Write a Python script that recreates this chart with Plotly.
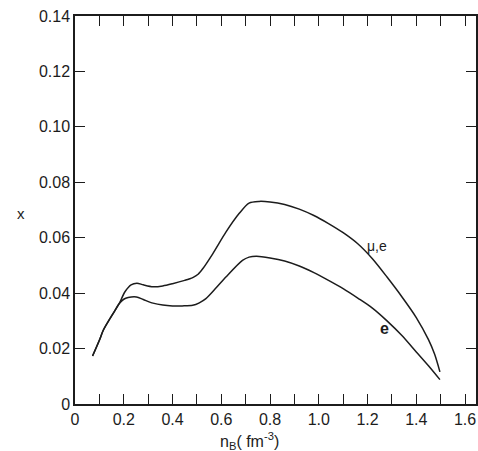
import plotly.graph_objects as go

# Data
x_mue = [0.072, 0.10, 0.116, 0.156, 0.181, 0.205, 0.230, 0.254, 0.28, 0.32, 0.36, 0.40, 0.45, 0.483,
         0.505, 0.524, 0.565, 0.619, 0.673, 0.714, 0.755, 0.80, 0.86, 0.92, 0.98, 1.04, 1.10, 1.16,
         1.22, 1.28, 1.34, 1.40, 1.45, 1.475, 1.497]
y_mue = [0.0173, 0.0230, 0.0266, 0.0326, 0.0362, 0.0405, 0.0430, 0.0436, 0.0430, 0.0423, 0.0426,
         0.0434, 0.0446, 0.0456, 0.0468, 0.0488, 0.0542, 0.0620, 0.0687, 0.0725, 0.0731, 0.0729,
         0.0720, 0.0703, 0.0680, 0.0651, 0.0618, 0.0578, 0.0524, 0.0458, 0.0388, 0.0312, 0.0232,
         0.0180, 0.0116]

x_e = [0.072, 0.10, 0.116, 0.156, 0.181, 0.20, 0.218, 0.252, 0.28, 0.32, 0.36, 0.40, 0.44, 0.483,
       0.51, 0.537, 0.58, 0.619, 0.687, 0.714, 0.745, 0.80, 0.86, 0.92, 0.98, 1.04, 1.10, 1.16,
       1.22, 1.28, 1.34, 1.40, 1.45, 1.497]
y_e = [0.0173, 0.0230, 0.0266, 0.0326, 0.0362, 0.0378, 0.0384, 0.0386, 0.0377, 0.0364, 0.0357,
       0.0354, 0.0354, 0.0356, 0.0365, 0.0380, 0.0420, 0.0458, 0.0518, 0.0530, 0.0533, 0.0527,
       0.0516, 0.0498, 0.0474, 0.0446, 0.0416, 0.0382, 0.0346, 0.0300, 0.0248, 0.0188, 0.0138,
       0.0088]

x_tickvals = [0.0, 0.1, 0.2, 0.3, 0.4, 0.5, 0.6, 0.7, 0.8, 0.9, 1.0, 1.1, 1.2, 1.3, 1.4, 1.5, 1.6]
x_ticktext = ["0", "", "0.2", "", "0.4", "", "0.6", "", "0.8", "", "1.0", "", "1.2", "", "1.4", "", "1.6"]
y_tickvals = [0.0, 0.02, 0.04, 0.06, 0.08, 0.10, 0.12, 0.14]
y_ticktext = ["0", "0.02", "0.04", "0.06", "0.08", "0.10", "0.12", "0.14"]

label_mue = "μ,e"
label_e = "e"

INK = "#1c1c1c"
FONT = "Liberation Sans"

fig = go.Figure()
for xs, ys in ((x_mue, y_mue), (x_e, y_e)):
    fig.add_trace(go.Scatter(x=xs, y=ys, mode="lines",
                             line=dict(color=INK, width=1.5, shape="spline", smoothing=0.8),
                             showlegend=False, hoverinfo="skip"))

fig.add_annotation(x=1.237, y=0.0569, text=label_mue, showarrow=False,
                   font=dict(family=FONT, size=14, color=INK))
fig.add_annotation(x=1.269, y=0.0273, text="<b>" + label_e + "</b>", showarrow=False,
                   font=dict(family=FONT, size=16, color=INK))

# axis titles
fig.add_annotation(xref="paper", yref="paper", x=-0.149, y=0.492, text="x", showarrow=False,
                   font=dict(family=FONT, size=15, color=INK))
fig.add_annotation(xref="paper", yref="paper", x=0.434, y=-0.095, yanchor="middle",
                   text="n<sub>B</sub>( fm<sup>-3</sup>)", showarrow=False,
                   font=dict(family=FONT, size=16, color=INK))

axis_common = dict(showgrid=False, zeroline=False, showline=True, linecolor=INK, linewidth=1.5,
                   ticks="inside", ticklen=10, tickwidth=1.3, tickcolor=INK, mirror="allticks",
                   tickfont=dict(family=FONT, size=16, color=INK))

fig.update_xaxes(range=[0, 1.645], tickmode="array", tickvals=x_tickvals, ticktext=x_ticktext,
                 **axis_common)
fig.update_yaxes(range=[0, 0.14], tickmode="array", tickvals=y_tickvals, ticktext=y_ticktext,
                 **axis_common)

fig.update_layout(width=478, height=451, margin=dict(l=75, r=0, t=16, b=47),
                  paper_bgcolor="white", plot_bgcolor="white")

fig.write_html("out.html")
